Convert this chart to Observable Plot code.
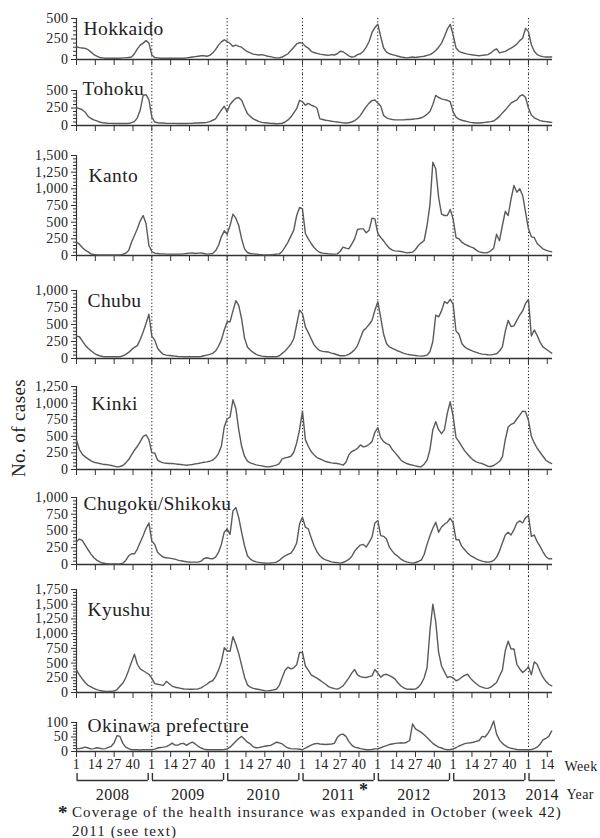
<!DOCTYPE html>
<html>
<head>
<meta charset="utf-8">
<script src="https://cdn.jsdelivr.net/npm/d3@7"></script>
<script src="https://cdn.jsdelivr.net/npm/@observablehq/plot@0.6"></script>
<style>
  html, body { margin: 0; padding: 0; background: #fff; }
  body { width: 600px; height: 838px; overflow: hidden; font-family: "Liberation Serif", "DejaVu Serif", serif; color: #222; }
  #chart svg { display: block; }
  #chart text { letter-spacing: 0.4px; }
  .foot { position: relative; padding-left: 72px; font-size: 15px; letter-spacing: 1.1px; line-height: 19px; margin-top: 1px; white-space: nowrap; }
  .foot .ast { position: absolute; left: 58px; top: 0px; font-size: 19px; font-weight: bold; letter-spacing: 0; }
</style>
</head>
<body>
<div id="chart"></div>
<div class="foot"><span class="ast">*</span>Coverage of the health insurance was expanded in October (week 42)<br>2011 (see text)</div>
<script>
// ---- data: weekly cases sampled every 2 weeks from 2008 week 1 to 2014 week 17 ----
const regions = ["Hokkaido", "Tohoku", "Kanto", "Chubu", "Kinki", "Chugoku/Shikoku", "Kyushu", "Okinawa prefecture"];

const hokkaido = [
  155,145,140,135,120,90,60,40,25,20,15,15,15,15,15,15,20,20,25,30,70,130,175,200,230,200,
  55,25,20,15,15,15,15,15,15,15,15,15,20,25,30,35,40,45,45,40,50,80,120,175,215,240,
  220,195,160,175,160,150,120,95,80,65,60,55,60,50,40,35,25,20,20,30,50,70,110,150,190,205,
  200,160,140,100,85,75,65,60,55,50,60,55,70,100,95,70,45,30,35,60,70,100,150,220,330,390,
  430,280,140,90,70,60,50,40,30,25,20,25,30,25,30,35,40,50,60,80,110,150,200,280,370,430,
  300,140,100,85,75,65,60,55,50,45,50,55,60,80,110,130,80,90,100,120,140,160,190,230,260,380,
  340,180,100,60,45,35,30,30,30
];
const tohoku = [
  255,240,225,190,130,100,80,65,50,40,35,30,30,28,28,28,28,28,28,40,55,110,220,430,440,365,
  120,50,40,35,35,30,30,30,30,28,28,28,28,30,30,35,35,40,40,45,55,75,95,160,220,275,
  195,300,350,390,400,360,260,170,130,95,75,55,45,40,35,30,28,25,28,32,50,80,120,180,240,360,
  340,290,315,290,275,250,95,85,75,70,60,55,50,45,38,35,40,50,70,100,145,210,270,320,355,365,
  320,280,145,110,95,85,80,80,80,80,85,85,90,95,100,110,130,160,200,300,430,400,380,370,360,340,
  195,120,90,75,65,55,45,40,35,35,40,45,50,55,65,95,130,180,220,270,320,345,365,420,440,400,
  250,150,110,90,70,60,55,50,45
];
const kanto = [
  200,170,120,80,55,25,15,10,8,8,8,8,8,8,8,10,15,35,75,200,300,400,520,600,480,150,
  60,35,30,25,25,20,20,20,20,20,20,25,30,35,40,30,35,40,30,20,25,30,70,150,280,370,
  320,450,620,560,450,250,100,45,30,25,20,15,12,10,10,12,15,20,25,60,130,200,290,380,600,720,
  700,330,250,180,120,75,45,35,30,25,22,20,25,60,125,110,100,170,250,390,400,400,340,380,560,550,
  330,270,220,160,110,80,70,65,60,50,40,45,50,90,150,190,225,450,760,1400,1300,870,620,600,600,690,
  550,270,250,200,170,150,130,115,80,55,45,40,45,70,110,320,220,450,660,600,850,1050,950,1000,900,650,
  400,280,270,180,140,100,80,65,55
];
const chubu = [
  330,320,260,196,150,115,80,55,40,30,25,25,25,25,25,25,40,60,90,130,165,190,280,390,515,650,
  330,270,150,100,60,50,45,40,35,30,28,25,25,25,25,25,25,30,40,50,60,75,110,180,270,420,
  540,540,700,850,780,580,300,170,122,90,60,45,35,30,25,25,25,25,40,75,110,160,210,290,500,710,
  660,465,380,290,200,150,115,105,100,95,80,70,55,40,40,45,60,90,130,190,300,410,450,500,560,710,
  835,600,360,220,170,150,130,110,95,75,64,55,50,45,38,35,40,50,100,250,637,612,700,835,810,870,
  800,400,360,220,170,140,122,105,90,75,65,60,55,54,60,70,110,172,400,560,470,480,560,640,700,810,
  870,330,420,340,240,170,140,110,80
];
const kinki = [
  440,300,230,190,160,130,110,100,90,80,75,70,60,50,40,45,60,100,150,220,290,350,420,500,520,450,
  250,250,140,115,100,95,90,90,85,80,75,70,65,70,75,85,90,100,110,115,125,140,180,240,350,640,
  760,790,1050,920,600,350,200,125,100,85,70,62,55,45,40,45,55,65,90,160,175,185,200,260,400,600,
  880,450,350,270,220,180,160,140,120,110,100,95,90,80,65,110,220,270,290,320,370,340,350,380,420,560,
  630,480,420,390,370,300,250,200,140,110,90,75,65,55,45,40,80,140,300,600,720,600,540,600,850,1020,
  800,480,420,350,280,230,180,140,115,100,90,70,50,45,60,90,120,190,450,640,680,700,760,820,880,870,
  740,500,400,320,260,200,140,110,90
];
const chugokuShikoku = [
  340,380,360,290,220,155,100,65,40,22,15,12,10,10,10,10,20,60,130,160,160,230,333,430,540,620,
  350,300,184,140,109,100,95,88,80,65,55,48,42,38,35,35,35,50,90,100,90,85,110,180,300,482,
  530,450,800,850,700,480,280,130,80,55,40,32,25,22,20,22,28,35,60,100,130,150,170,230,320,606,
  706,557,532,400,280,190,130,90,70,55,40,33,28,20,30,50,75,120,200,250,290,300,260,330,410,620,
  656,430,420,380,260,200,150,120,80,55,40,28,20,30,45,65,150,300,430,540,631,482,560,600,631,690,
  620,370,370,270,220,170,134,110,85,65,50,40,35,40,60,110,200,320,440,480,440,520,620,650,620,700,
  730,420,440,340,270,190,120,85,85
];
const kyushu = [
  380,300,230,170,120,95,70,48,35,25,18,17,20,25,50,105,160,250,380,520,650,480,400,370,340,310,
  240,150,140,130,120,190,150,110,90,80,70,60,57,55,55,57,60,80,110,140,180,200,270,380,520,760,
  709,700,950,820,660,460,260,130,90,70,60,50,40,30,28,35,45,55,120,255,380,430,400,420,470,680,
  680,450,380,300,270,245,210,175,140,100,80,65,57,80,113,180,250,330,390,300,270,260,255,270,283,390,
  330,260,300,310,285,260,227,160,110,80,57,55,55,57,90,150,250,420,1050,1500,1200,680,450,350,255,270,
  250,200,220,260,290,310,240,190,150,110,90,75,70,90,130,170,280,380,709,870,740,740,480,400,340,380,
  437,300,520,480,360,260,190,140,113
];
const okinawa = [
  10,10,12,15,12,9,10,13,11,9,10,14,18,30,55,52,28,15,10,6,6,6,5,6,6,6,
  6,8,12,14,15,17,22,29,22,22,27,28,21,28,32,26,18,12,8,6,6,6,6,6,6,7,
  9,15,25,35,45,52,42,32,26,16,13,14,16,18,20,21,26,32,30,26,18,12,10,9,9,8,
  6,12,17,22,26,28,26,25,24,25,26,28,48,58,60,52,35,22,15,13,10,8,6,6,7,9,
  9,13,17,20,24,26,28,29,30,29,32,38,95,78,72,66,58,48,38,28,21,15,12,8,6,7,
  9,13,19,23,27,29,30,32,35,38,52,50,62,80,105,60,40,28,20,14,11,9,7,6,6,6,
  6,7,10,15,25,40,45,52,70
];
const series = [hokkaido, tohoku, kanto, chubu, kinki, chugokuShikoku, kyushu, okinawa];

const yMax = [500, 500, 1500, 1000, 1250, 1000, 1750, 100];
const yMajorStep = [250, 250, 250, 250, 250, 250, 250, 50];
const yMinorStep = [50, 50, 50, 50, 50, 50, 50, 10];

const years = [2008, 2009, 2010, 2011, 2012, 2013, 2014];
const weekTickLabels = [1, 14, 27, 40];
const lastWeek2014 = 17;
const asteriskYear = 2011;
const yLabel = "No. of cases";

// ---- layout (pixels) ----
const FONT = "'Liberation Serif', 'DejaVu Serif', serif";
const W = 600, ML = 76, MR = 48;
const weeksPerYear = 52;
const sampleStep = 2;
const xMax = (years.length - 1) * weeksPerYear + lastWeek2014 - 0.4;
const layout = [
  {mt: 18, h: 41, mb: 15, lx: 7, ly: 10},
  {mt: 16, h: 35, mb: 15, lx: 6, ly: -2},
  {mt: 15, h: 100, mb: 17, lx: 12, ly: 20},
  {mt: 18, h: 68, mb: 19, lx: 11, ly: 10},
  {mt: 9, h: 83, mb: 11, lx: 15, ly: 17},
  {mt: 17, h: 67, mb: 12, lx: 7, ly: 6},
  {mt: 13, h: 103, mb: 13, lx: 11, ly: 20},
  {mt: 17, h: 29, mb: 21, lx: 11, ly: 3}
];

const yearStarts = years.slice(1).map(y => (y - years[0]) * weeksPerYear);
const weekTicks = [];
years.forEach((y, k) => {
  weekTickLabels.forEach(wk => {
    const idx = k * weeksPerYear + wk - 1;
    if (idx <= xMax) weekTicks.push(idx);
  });
});

const chart = document.getElementById("chart");
const axisColor = "#333";
const lineColor = "#5a5a5a";
const svgStyle = `font-family:${FONT};font-size:14px;background:transparent;overflow:visible;color:#222;`;

regions.forEach((name, i) => {
  const L = layout[i];
  const first = i === 0, last = i === regions.length - 1;
  const rows = series[i].map((v, j) => ({w: j * sampleStep, v}));
  const major = d3.range(0, yMax[i] + 1, yMajorStep[i]);
  const minor = d3.range(0, yMax[i] + 1, yMinorStep[i]).filter(d => d % yMajorStep[i] !== 0);
  const marks = [
    Plot.ruleX(yearStarts, {stroke: "#111", strokeWidth: 1, strokeDasharray: "1.2,2.2",
      insetTop: first ? 0 : -L.mt, insetBottom: last ? 0 : -L.mb}),
    Plot.ruleY(minor, {y: d => d, x1: 0, x2: 0, insetLeft: -3, stroke: axisColor, strokeWidth: 1}),
    Plot.axisY({ticks: major, tickSize: 5, tickPadding: 3, tickFormat: d3.format(","), label: null,
      stroke: axisColor, fill: "#222", fontSize: 14}),
    Plot.axisX({ticks: weekTicks, tickSize: 6, tickPadding: 2, label: null, stroke: axisColor,
      fill: last ? "#222" : "none", fontSize: 14, tickFormat: d => (d % weeksPerYear) + 1}),
    Plot.ruleX([0], {stroke: axisColor, strokeWidth: 1.2}),
    Plot.ruleY([0], {stroke: axisColor, strokeWidth: 1.4}),
    Plot.line(rows, {x: "w", y: "v", stroke: lineColor, strokeWidth: 1.4}),
    Plot.text([name], {frameAnchor: "top-left", dx: L.lx, dy: L.ly, fontSize: 19.5, textAnchor: "start",
      lineAnchor: "middle", fill: "#222"})
  ];
  if (i === 4) {
    marks.push(Plot.text([yLabel], {frameAnchor: "left", dx: -58, rotate: -90, fontSize: 19,
      textAnchor: "middle", lineAnchor: "middle", fill: "#222"}));
  }
  if (last) {
    marks.push(Plot.text(["Week"], {frameAnchor: "bottom-right", dx: 12, dy: 15, textAnchor: "start",
      lineAnchor: "middle", fontSize: 14, fill: "#222"}));
  }
  const svg = Plot.plot({
    width: W, height: L.mt + L.h + L.mb,
    marginLeft: ML, marginRight: MR, marginTop: L.mt, marginBottom: L.mb,
    style: svgStyle,
    x: {domain: [0, xMax], axis: null},
    y: {domain: [0, yMax[i]], axis: null},
    marks
  });
  chart.appendChild(svg);
});

// ---- year brackets ----
const yearRows = years.map((y, k) => {
  const base = k * weeksPerYear;
  const closed = k < years.length - 1;
  const start = base + 0.4;
  const end = closed ? base + 49.5 : xMax + 2;
  return {year: y, label: String(y), start, end, mid: (start + end) / 2, closed};
});
const yearsSvg = Plot.plot({
  width: W, height: 30, marginLeft: ML, marginRight: MR, marginTop: 1, marginBottom: 22,
  style: svgStyle,
  x: {domain: [0, xMax], axis: null},
  y: {domain: [0, 1], axis: null},
  marks: [
    Plot.ruleY(yearRows, {x1: "start", x2: "end", y: 0, stroke: axisColor, strokeWidth: 1.4}),
    Plot.ruleX(yearRows, {x: "start", y1: 0, y2: 1, stroke: axisColor, strokeWidth: 1.4}),
    Plot.ruleX(yearRows.filter(d => d.closed), {x: "end", y1: 0, y2: 1, stroke: axisColor, strokeWidth: 1.4}),
    Plot.text(yearRows, {x: "mid", y: 0, text: "label", dy: 14, fontSize: 16, lineAnchor: "middle", fill: "#222"}),
    Plot.text(yearRows.filter(d => d.year === asteriskYear), {x: "mid", y: 0, text: () => "*", dx: 25, dy: 10,
      fontSize: 18, fontWeight: "bold", lineAnchor: "middle", fill: "#222"}),
    Plot.text(["Year"], {frameAnchor: "bottom-right", dx: 14, dy: 14, textAnchor: "start", lineAnchor: "middle",
      fontSize: 14, fill: "#222"})
  ]
});
chart.appendChild(yearsSvg);
</script>
</body>
</html>
